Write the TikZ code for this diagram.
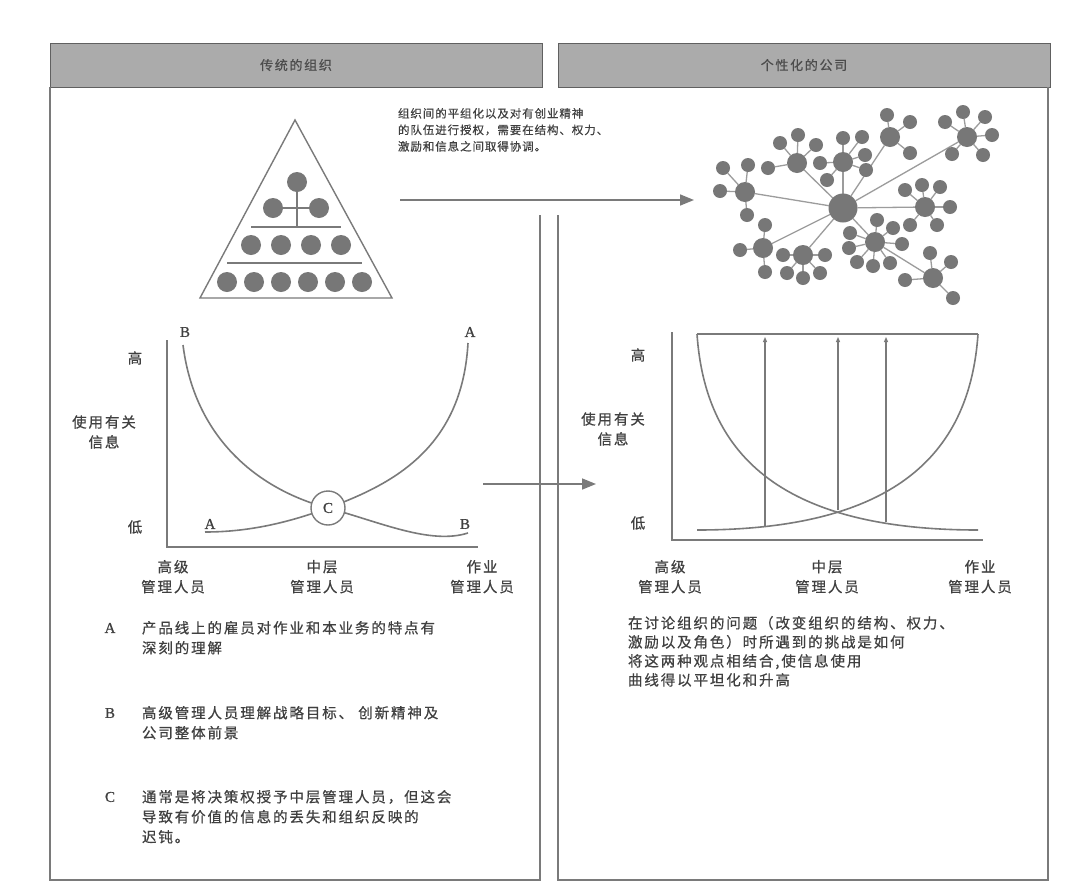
\documentclass[tikz,border=0pt]{standalone}
\usepackage{fontspec}
\setmainfont{Noto Sans CJK SC}
\newfontfamily\zh[LetterSpace=13,FakeBold=0.6]{Noto Sans CJK SC}
\newfontfamily\zhs[LetterSpace=8,FakeBold=0.5]{Noto Sans CJK SC}
\newfontfamily\latf[FakeBold=0.8]{Liberation Serif}
\usetikzlibrary{arrows.meta,backgrounds}
\definecolor{lin}{HTML}{7A7A7A}
\definecolor{txt}{HTML}{404040}
\definecolor{dot}{HTML}{777777}
\definecolor{hdr}{HTML}{ABABAB}
\definecolor{edg}{HTML}{9C9C9C}
\tikzset{
  panel/.style={draw=lin, line width=1.8pt},
  hdrbox/.style={fill=hdr, draw=gray!75!black, line width=0.8pt, minimum width=492pt, minimum height=44pt, anchor=north west},
  hdrtext/.style={text=gray!60!black, font=\zh\fontsize{13}{15}\selectfont},
  axisline/.style={draw=lin, line width=1.4pt},
  curveline/.style={draw=lin, line width=1.6pt},
  netline/.style={draw=edg, line width=1.3pt},
  pdot/.style={circle, fill=dot, minimum size=20pt},
  hub/.style={circle, fill=dot, minimum size=20pt},
  leaf/.style={circle, fill=dot, minimum size=14pt},
  corenode/.style={circle, fill=dot, minimum size=29pt},
  bigarrow/.style={draw=lin, line width=1.6pt, -{Triangle[length=14pt,width=11pt]}},
  smallarrow/.style={draw=lin, line width=1.1pt, -{Triangle[length=5pt,width=4pt]}},
  lbl/.style={text=txt, font=\zh\fontsize{14.5}{20}\selectfont},
  small/.style={text=txt, font=\zhs\fontsize{11.5}{16.5}\selectfont},
  letter/.style={text=txt, font=\latf\fontsize{15}{17}\selectfont},
}
\newcommand{\hubwith}[3]{%
  \node[hub] (#1) at #2 {};
  \foreach \p [count=\i] in {#3} {
    \node[leaf] (#1l\i) at \p {};
    \begin{pgfonlayer}{background}\draw[netline] (#1) -- (#1l\i);\end{pgfonlayer}
  }
  \begin{pgfonlayer}{background}\draw[netline] (core) -- (#1);\end{pgfonlayer}
}
\begin{document}
\begin{tikzpicture}[x=1pt,y=-1pt, every node/.style={inner sep=0pt, outer sep=0pt}]
\useasboundingbox (0,0) rectangle (1074,884);
\begin{pgfonlayer}{background}
\fill[white] (0,0) rectangle (1074,884);
\end{pgfonlayer}

% headers
\node[hdrbox] (hl) at (50,43) {};
\node[hdrtext] (hlt) at (hl) {传统的组织};
\node[hdrbox] (hr) at (558,43) {};
\node[hdrtext] (hrt) at (hr) {个性化的公司};

% panels
\draw[panel] (50,87) -- (50,880) -- (540,880) -- (540,215);
\draw[panel] (558,215) -- (558,880) -- (1048,880) -- (1048,87);

% pyramid
\coordinate (apex) at (295,120);
\coordinate (bl) at (200,298);
\coordinate (br) at (392,298);
\draw[axisline] (apex) -- (bl) -- (br) -- cycle;
\coordinate (v1) at (297,227);
\coordinate (r3a) at (251,227); \coordinate (r3b) at (341,227);
\coordinate (r4a) at (227,263); \coordinate (r4b) at (362,263);
\draw[axisline, line width=1.1pt] (r3a) -- (r3b);
\draw[axisline, line width=1.1pt] (r4a) -- (r4b);
\node[pdot] (p1) at (297,182) {};
\node[pdot] (p2a) at (273,208) {};
\node[pdot] (p2b) at (319,208) {};
\begin{pgfonlayer}{background}
\draw[axisline, line width=1.1pt] (p1) -- (v1);
\draw[axisline, line width=1.1pt] (p2a) -- (p2b);
\end{pgfonlayer}
\foreach \x [count=\i] in {251,281,311,341} { \node[pdot] (p3\i) at (\x,245) {}; }
\foreach \x [count=\i] in {227,254,281,308,335,362} { \node[pdot] (p4\i) at (\x,282) {}; }

% top text
\node[small, anchor=north west, align=left] (toptext) at (398,108)
  {组织间的平组化以及对有创业精神\\的队伍进行授权，需要在结构、权力、\\激励和信息之间取得协调。};

% arrows
\coordinate (ta1) at (400,200); \coordinate (ta2) at (694,200);
\draw[bigarrow] (ta1) -- (ta2);
\coordinate (ma1) at (483,484); \coordinate (ma2) at (596,484);
\draw[bigarrow] (ma1) -- (ma2);

% network
\node[corenode] (core) at (843,208) {};
\hubwith{h1}{(745,192)}{(723,168),(748,165),(720,191),(747,215)}
\hubwith{h2}{(797,163)}{(780,143),(798,135),(816,145),(768,168)}
\hubwith{h3}{(843,162)}{(843,138),(862,137),(865,155),(866,170),(820,163),(827,180)}
\hubwith{h4}{(890,137)}{(887,115),(910,122),(910,153)}
\hubwith{h5}{(967,137)}{(963,112),(985,117),(945,122),(992,135),(952,154),(983,155)}
\hubwith{h6}{(925,207)}{(905,190),(922,185),(940,187),(950,207),(910,225),(937,225)}
\hubwith{h7}{(875,242)}{(877,220),(893,228),(902,244),(850,233),(849,248),(857,262),(873,266),(890,263)}
\hubwith{h8}{(763,248)}{(765,225),(740,250),(765,272)}
\hubwith{h9}{(803,255)}{(783,255),(825,255),(787,273),(803,278),(820,273)}
\node[hub] (h10) at (933,278) {};
\foreach \p [count=\i] in {(930,253),(951,262),(905,280),(953,298)} {
  \node[leaf] (h10l\i) at \p {};
  \begin{pgfonlayer}{background}\draw[netline] (h10) -- (h10l\i);\end{pgfonlayer}
}
\begin{pgfonlayer}{background}\draw[netline] (h7) -- (h10);\end{pgfonlayer}

% left chart
\coordinate (lo) at (167,547);
\coordinate (ly) at (167,340);
\coordinate (lx) at (478,547);
\draw[axisline] (ly) -- (lo) -- (lx);
\coordinate (cC) at (328,508);
\draw[curveline] (183,345) .. controls (195,440) and (260,490) .. (cC)
                  .. controls (380,522) and (430,545) .. (468,533);
\draw[curveline] (205,532) .. controls (250,532) and (290,522) .. (cC)
                  .. controls (390,485) and (462,450) .. (468,343);
\node[circle, draw=lin, line width=1.4pt, fill=white, minimum size=34pt, letter] (C) at (cC) {C};
\node[letter] (lB1) at (185,332) {B};
\node[letter] (lA1) at (470,332) {A};
\node[letter] (lA2) at (210,524) {A};
\node[letter] (lB2) at (465,524) {B};
\node[lbl] (lhi) at (135,358) {高};
\node[lbl] (llo) at (135,527) {低};
\node[lbl, align=center] (lyl) at (104,432) {使用有关\\信息};
\node[lbl, align=center, anchor=north] (lx1) at (173,560) {高级\\管理人员};
\node[lbl, align=center, anchor=north] (lx2) at (322,560) {中层\\管理人员};
\node[lbl, align=center, anchor=north] (lx3) at (482,560) {作业\\管理人员};

% right chart
\coordinate (ro) at (672,540);
\coordinate (ry) at (672,332);
\coordinate (rx) at (983,540);
\draw[axisline] (ry) -- (ro) -- (rx);
\coordinate (rt1) at (697,334); \coordinate (rt2) at (978,334);
\coordinate (rb1) at (697,530); \coordinate (rb2) at (978,530);
\draw[axisline, line width=1.1pt] (rt1) -- (rt2);
\draw[curveline] (rt1) .. controls (705,450) and (775,530) .. (rb2);
\draw[curveline] (rb1) .. controls (900,530) and (970,450) .. (rt2);
\coordinate (va1) at (765,526); \coordinate (vb1) at (765,337);
\coordinate (va2) at (838,510); \coordinate (vb2) at (838,337);
\coordinate (va3) at (886,522); \coordinate (vb3) at (886,337);
\draw[smallarrow] (va1) -- (vb1);
\draw[smallarrow] (va2) -- (vb2);
\draw[smallarrow] (va3) -- (vb3);
\node[lbl] (rhi) at (638,355) {高};
\node[lbl] (rlo) at (638,523) {低};
\node[lbl, align=center] (ryl) at (613,429) {使用有关\\信息};
\node[lbl, align=center, anchor=north] (rx1) at (670,560) {高级\\管理人员};
\node[lbl, align=center, anchor=north] (rx2) at (827,560) {中层\\管理人员};
\node[lbl, align=center, anchor=north] (rx3) at (980,560) {作业\\管理人员};

% left legend
\node[letter] (kA) at (110,628) {A};
\node[lbl, anchor=north west, align=left] (tA) at (142,621) {产品线上的雇员对作业和本业务的特点有\\深刻的理解};
\node[letter] (kB) at (110,713) {B};
\node[lbl, anchor=north west, align=left] (tB) at (142,706) {高级管理人员理解战略目标、 创新精神及\\公司整体前景};
\node[letter] (kC) at (110,797) {C};
\node[lbl, anchor=north west, align=left] (tC) at (142,790) {通常是将决策权授予中层管理人员，但这会\\导致有价值的信息的丢失和组织反映的\\迟钝。};

% right legend
\node[lbl, anchor=north west, align=left, font=\zh\fontsize{14.5}{19}\selectfont] (tR) at (628,616)
  {在讨论组织的问题（改变组织的结构、权力、\\激励以及角色）时所遇到的挑战是如何\\将这两种观点相结合,使信息使用\\曲线得以平坦化和升高};
\end{tikzpicture}
\end{document}
